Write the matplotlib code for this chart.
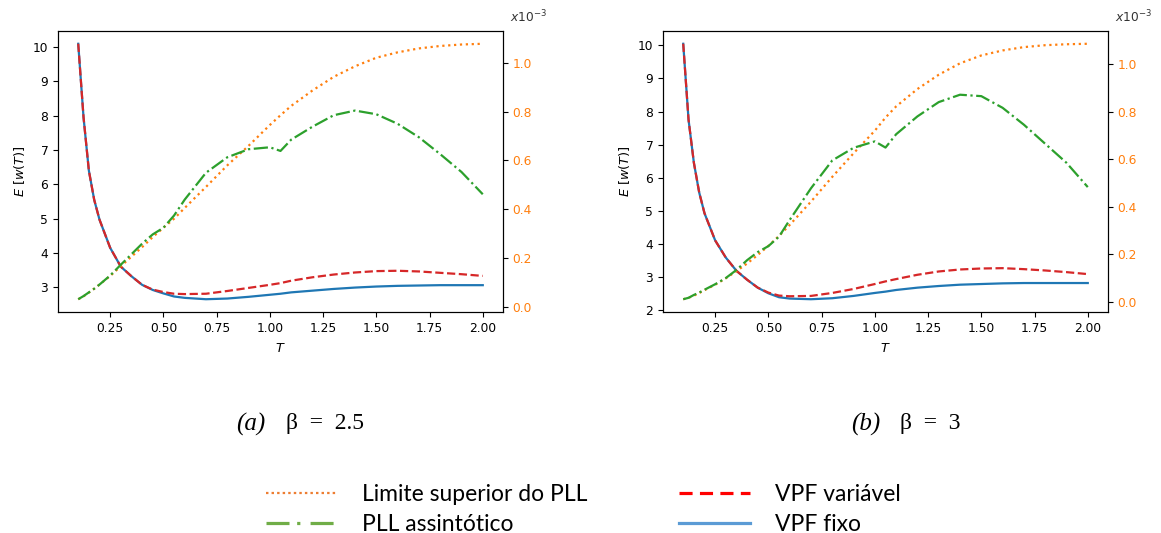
import matplotlib
matplotlib.use('Agg')
import matplotlib.pyplot as plt
from matplotlib.lines import Line2D

# ---------------- data ----------------
T = [0.1, 0.125, 0.15, 0.175, 0.2, 0.25, 0.3, 0.35, 0.4, 0.45, 0.5, 0.55, 0.6,
     0.7, 0.8, 0.9, 1.0, 1.05, 1.1, 1.2, 1.3, 1.4, 1.5, 1.6, 1.7, 1.8, 1.9, 2.0]

# (a) beta = 2.5
vpf_var_a = [10.10, 7.95, 6.4, 5.55, 4.97, 4.15, 3.6, 3.32, 3.07, 2.93, 2.86, 2.81, 2.80,
             2.81, 2.89, 2.98, 3.07, 3.12, 3.19, 3.29, 3.37, 3.43, 3.47, 3.48, 3.46, 3.42, 3.38, 3.33]
vpf_fix_a = [10.10, 7.95, 6.4, 5.55, 4.97, 4.15, 3.6, 3.32, 3.07, 2.92, 2.82, 2.73, 2.69,
             2.65, 2.67, 2.72, 2.78, 2.81, 2.85, 2.90, 2.95, 2.99, 3.02, 3.04, 3.05, 3.06, 3.06, 3.06]
pll_asym_a = [0.033, 0.046, 0.061, 0.076, 0.093, 0.130, 0.174, 0.217, 0.26, 0.298, 0.325, 0.375, 0.44,
              0.55, 0.613, 0.646, 0.654, 0.639, 0.685, 0.738, 0.785, 0.804, 0.789, 0.75, 0.695, 0.626, 0.553, 0.462]
pll_lim_a = [0.033, 0.045, 0.06, 0.076, 0.093, 0.128, 0.168, 0.207, 0.246, 0.287, 0.325, 0.362, 0.406,
             0.492, 0.58, 0.66, 0.745, 0.785, 0.823, 0.886, 0.942, 0.985, 1.02, 1.042, 1.058, 1.068, 1.074, 1.077]

# (b) beta = 3
vpf_var_b = [10.05, 7.75, 6.45, 5.55, 4.92, 4.1, 3.58, 3.18, 2.91, 2.67, 2.52, 2.43, 2.41,
             2.42, 2.51, 2.63, 2.78, 2.86, 2.93, 3.06, 3.16, 3.22, 3.25, 3.26, 3.23, 3.19, 3.14, 3.08]
vpf_fix_b = [10.05, 7.75, 6.45, 5.55, 4.92, 4.1, 3.58, 3.18, 2.91, 2.67, 2.50, 2.38, 2.34,
             2.32, 2.35, 2.42, 2.51, 2.55, 2.60, 2.67, 2.72, 2.76, 2.78, 2.80, 2.81, 2.81, 2.81, 2.81]
pll_asym_b = [0.012, 0.018, 0.03, 0.04, 0.052, 0.075, 0.101, 0.135, 0.176, 0.21, 0.235, 0.275, 0.345,
              0.478, 0.595, 0.648, 0.675, 0.649, 0.705, 0.78, 0.84, 0.871, 0.865, 0.816, 0.745, 0.665, 0.585, 0.483]
pll_lim_b = [0.012, 0.018, 0.027, 0.038, 0.05, 0.073, 0.10, 0.13, 0.162, 0.198, 0.236, 0.278, 0.324,
             0.422, 0.526, 0.625, 0.72, 0.775, 0.822, 0.895, 0.955, 1.003, 1.036, 1.057, 1.071, 1.079, 1.083, 1.085]

captions = [("(a)", "β  =  2.5"), ("(b)", "β  =  3")]
legend_labels = ["Limite superior do PLL", "PLL assintótico", "VPF variável", "VPF fixo"]

# ---------------- figure ----------------
W, H = 1161, 533
fig = plt.figure(figsize=(W / 100, H / 100), dpi=100)

TICK_FS = 8.8
ORANGE = '#ff7f0e'

def panel(left_px, var, fix, asym, lim):
    ax = fig.add_axes([left_px / W, (H - 312) / H, 445 / W, 281 / H])
    ax.plot(T, fix, color='tab:blue', lw=1.6, ls='-')
    ax.plot(T, var, color='tab:red', lw=1.6, ls='--')
    ax.set_xlabel(r'$T$', fontsize=TICK_FS + 0.5, labelpad=5)
    ax.set_ylabel(r'$E\ [w(T)]$', fontsize=TICK_FS + 0.5)
    ax.set_xticks([0.25, 0.5, 0.75, 1.0, 1.25, 1.5, 1.75, 2.0])
    ax.tick_params(labelsize=TICK_FS)
    ax2 = ax.twinx()
    ax2.plot(T, lim, color=ORANGE, lw=1.6, ls=':')
    ax2.plot(T, asym, color='tab:green', lw=1.6, ls='-.')
    ax2.tick_params(labelsize=TICK_FS, labelcolor=ORANGE)
    ax2.set_yticks([0.0, 0.2, 0.4, 0.6, 0.8, 1.0])
    ax2.text(1.015, 1.022, r'$x10^{-3}$', transform=ax2.transAxes,
             ha='left', va='bottom', fontsize=TICK_FS, color='#333333')
    return ax, ax2

panel(58, vpf_var_a, vpf_fix_a, pll_asym_a, pll_lim_a)
panel(663, vpf_var_b, vpf_fix_b, pll_asym_b, pll_lim_b)

# captions
for (lab, beta), x_lab, x_beta in zip(captions, [236, 851], [286, 900]):
    fig.text(x_lab / W, 1 - 424 / H, lab, family='Liberation Serif', style='italic',
             fontsize=18, ha='left', va='center')
    fig.text(x_beta / W, 1 - 424 / H, beta, family='Liberation Serif',
             fontsize=17, ha='left', va='center')

# legend
handles = [
    Line2D([], [], color='#ED7D31', lw=1.6, ls=(0, (1.1, 1.4))),
    Line2D([], [], color='#70AD47', lw=2.3, ls=(0, (7.2, 2.4, 1.0, 3.2))),
    Line2D([], [], color='#FF0000', lw=2.3, ls=(0, (4.1, 2.3))),
    Line2D([], [], color='#5B9BD5', lw=2.3, ls='-'),
]
fs_leg = 16.5
px = fs_leg * 100 / 72
leg = fig.legend(handles, legend_labels, ncol=2, frameon=False,
                 prop={'family': 'Lato', 'size': fs_leg},
                 handlelength=71 / px, handletextpad=25 / px, columnspacing=92 / px,
                 labelspacing=0.38, borderpad=0, borderaxespad=0,
                 loc='upper left', bbox_to_anchor=(266 / W, 1 - 484 / H))

fig.savefig('out.png', dpi=100)
